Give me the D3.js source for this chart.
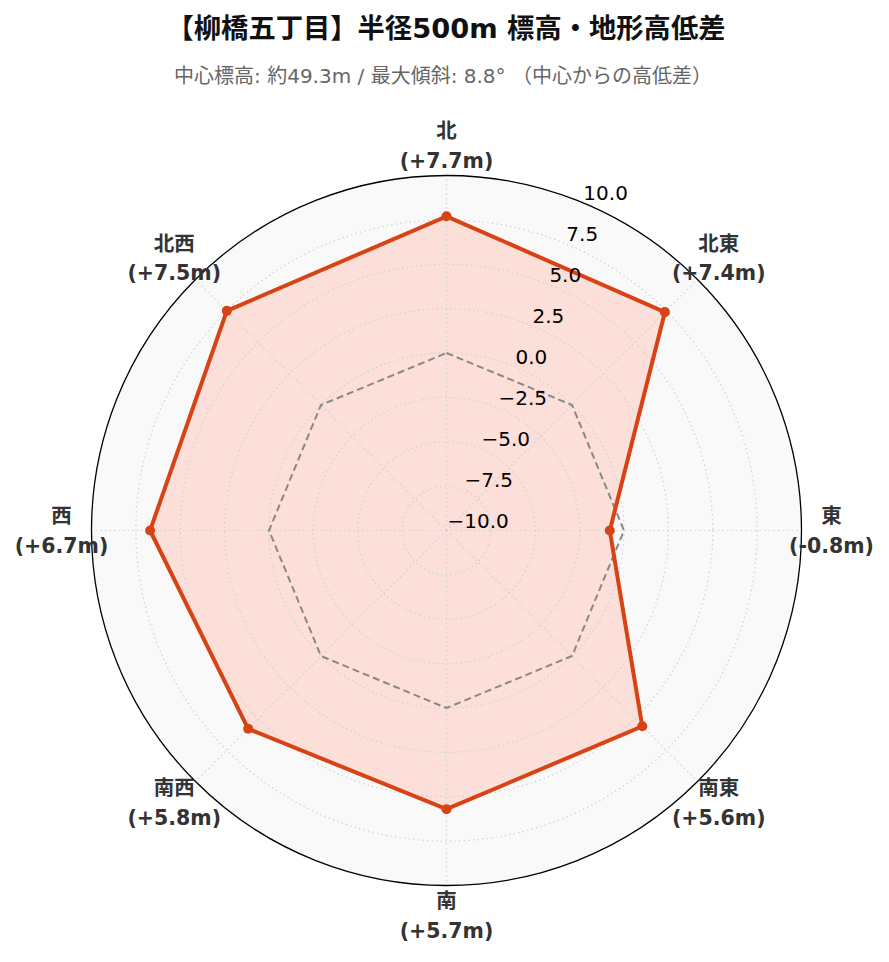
<!DOCTYPE html>
<html>
<head>
<meta charset="utf-8">
<script src="https://cdn.jsdelivr.net/npm/d3@7"></script>
<style>
  html, body { margin: 0; padding: 0; background: #ffffff; }
  svg { display: block; }
</style>
</head>
<body>
<svg id="chart" width="889" height="962"></svg>
<script>
// ---- data ----
const titleText = "【柳橋五丁目】半径500m 標高・地形高低差";
const subtitleText = "中心標高: 約49.3m / 最大傾斜: 8.8° （中心からの高低差）";
const directions = ["北", "北東", "東", "南東", "南", "南西", "西", "北西"];
const diffs = [7.7, 7.4, -0.8, 5.6, 5.7, 5.8, 6.7, 7.5];
const baseline = [0, 0, 0, 0, 0, 0, 0, 0];
const radialTicks = [-10.0, -7.5, -5.0, -2.5, 0.0, 2.5, 5.0, 7.5, 10.0];
const radialDomain = [-10, 10];

// ---- layout ----
const cx = 446.5, cy = 530.5, R = 355;
const CJK = "'DejaVu Sans', 'Noto Sans CJK JP', sans-serif";

const svg = d3.select("#chart");
const g = svg.append("g").attr("transform", `translate(${cx},${cy})`);

const r = d3.scaleLinear().domain(radialDomain).range([0, R]);
const angle = d3.scaleBand().domain(directions).range([0, 2 * Math.PI]).paddingInner(0).paddingOuter(0).align(0);
const ang = d => angle(d);

const px = (a, rad) => rad * Math.sin(a);
const py = (a, rad) => -rad * Math.cos(a);

// background disk
g.append("circle").attr("r", R).attr("fill", "#f9f9f9");

// filled area
const radial = d3.lineRadial()
  .angle((d, i) => ang(directions[i]))
  .radius(d => r(d))
  .curve(d3.curveLinearClosed);

g.append("path")
  .datum(diffs)
  .attr("d", radial)
  .attr("fill", "#fcdfd8")
  .attr("stroke", "none");

// grid circles
const gridColor = "#c9d1d6";
g.selectAll("circle.grid")
  .data(radialTicks.filter(t => t > radialDomain[0] && t < radialDomain[1]))
  .join("circle")
  .attr("class", "grid")
  .attr("r", d => r(d))
  .attr("fill", "none")
  .attr("stroke", gridColor)
  .attr("stroke-width", 1.2)
  .attr("stroke-dasharray", "1.4,3.2");

// spokes
g.selectAll("line.spoke")
  .data(directions)
  .join("line")
  .attr("class", "spoke")
  .attr("x1", 0).attr("y1", 0)
  .attr("x2", d => px(ang(d), R))
  .attr("y2", d => py(ang(d), R))
  .attr("stroke", gridColor)
  .attr("stroke-width", 1.2)
  .attr("stroke-dasharray", "1.4,3.2");

// zero reference (dashed)
g.append("path")
  .datum(baseline)
  .attr("d", radial)
  .attr("fill", "none")
  .attr("stroke", "#888888")
  .attr("stroke-width", 2)
  .attr("stroke-dasharray", "7,4");

// data line
g.append("path")
  .datum(diffs)
  .attr("d", radial)
  .attr("fill", "none")
  .attr("stroke", "#d84315")
  .attr("stroke-width", 4)
  .attr("stroke-linejoin", "miter");

// markers
g.selectAll("circle.pt")
  .data(diffs)
  .join("circle")
  .attr("class", "pt")
  .attr("cx", (d, i) => px(ang(directions[i]), r(d)))
  .attr("cy", (d, i) => py(ang(directions[i]), r(d)))
  .attr("r", 5)
  .attr("fill", "#d84315");

// outer circle
g.append("circle").attr("r", R).attr("fill", "none")
  .attr("stroke", "#000").attr("stroke-width", 1.3);

// radial tick labels along 22.5deg
const labA = 22.5 * Math.PI / 180;
const fmt = d => (d < 0 ? "\u2212" : "") + Math.abs(d).toFixed(1);
g.selectAll("text.rtick")
  .data(radialTicks)
  .join("text")
  .attr("class", "rtick")
  .attr("x", d => px(labA, r(d)) + 1)
  .attr("y", d => py(labA, r(d)) - 3)
  .attr("text-anchor", "start")
  .attr("font-family", "'DejaVu Sans', sans-serif")
  .attr("font-size", 20)
  .attr("fill", "#000")
  .text(fmt);

// direction labels
const labR = 385;
const dl = g.selectAll("g.dir")
  .data(directions)
  .join("g")
  .attr("class", "dir")
  .attr("transform", d => `translate(${px(ang(d), labR)},${py(ang(d), labR)})`);
dl.append("text")
  .attr("y", -14.5)
  .attr("text-anchor", "middle")
  .attr("dominant-baseline", "central")
  .attr("font-family", CJK)
  .attr("font-weight", "bold")
  .attr("font-size", 20.5)
  .attr("fill", "#333")
  .text(d => d);
dl.append("text")
  .attr("y", 15)
  .attr("text-anchor", "middle")
  .attr("dominant-baseline", "central")
  .attr("font-family", CJK)
  .attr("font-weight", "bold")
  .attr("font-size", 20.5)
  .attr("fill", "#333")
  .text((d, i) => `(${diffs[i] >= 0 ? "+" : ""}${diffs[i].toFixed(1)}m)`);

// title & subtitle
svg.append("text")
  .attr("x", 446).attr("y", 28)
  .attr("text-anchor", "middle")
  .attr("dominant-baseline", "central")
  .attr("font-family", CJK)
  .attr("font-weight", "bold")
  .attr("font-size", 27.3)
  .attr("fill", "#111")
  .text(titleText);
svg.append("text")
  .attr("x", 443).attr("y", 76)
  .attr("text-anchor", "middle")
  .attr("dominant-baseline", "central")
  .attr("font-family", CJK)
  .attr("font-size", 20)
  .attr("fill", "#666")
  .text(subtitleText);
</script>
</body>
</html>
